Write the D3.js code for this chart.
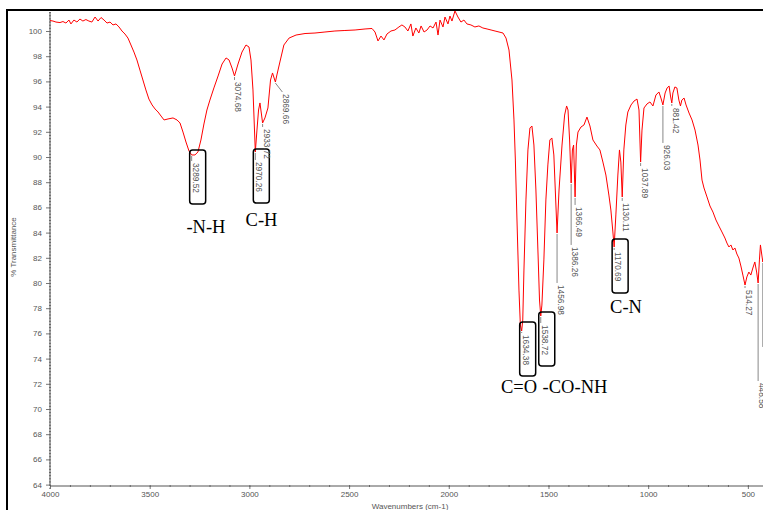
<!DOCTYPE html>
<html>
<head>
<meta charset="utf-8">
<script src="https://cdn.jsdelivr.net/npm/d3@7.9.0/dist/d3.min.js"></script>
<style>
  html, body { margin: 0; padding: 0; background: #fff; overflow: hidden; }
  svg { display: block; }
</style>
</head>
<body>
<svg id="chart" width="763" height="510"></svg>
<script>
// spectrum: wavenumber (cm-1) and % transmittance
const wavenumbers = [
  4000, 3985, 3970, 3950, 3935, 3920, 3905, 3895, 3880, 3865,
  3850, 3835, 3820, 3805, 3790, 3774, 3759, 3744, 3729, 3714,
  3699, 3684, 3669, 3654, 3639, 3624, 3609, 3594, 3579, 3564,
  3549, 3534, 3519, 3504, 3488, 3473, 3458, 3443, 3428, 3408,
  3383, 3363, 3348, 3333, 3318, 3303, 3289.52, 3273, 3258, 3243,
  3228, 3213, 3198, 3178, 3157, 3137, 3117, 3102, 3087, 3074.68,
  3057, 3037, 3017, 3002, 2992, 2982, 2970.26, 2962, 2954, 2947,
  2933.72, 2922, 2907, 2894, 2884, 2869.66, 2862, 2847, 2827, 2801,
  2766, 2721, 2671, 2621, 2571, 2521, 2470, 2420, 2385, 2370,
  2355, 2340, 2325, 2310, 2290, 2270, 2250, 2235, 2220, 2205,
  2190, 2180, 2165, 2150, 2139, 2124, 2109, 2094, 2079, 2064,
  2054, 2044, 2029, 2019, 2004, 1994, 1984, 1969, 1954, 1939,
  1924, 1909, 1889, 1869, 1849, 1829, 1808, 1788, 1768, 1748,
  1728, 1713, 1698, 1683, 1673, 1666, 1658, 1648, 1641, 1634.38,
  1629, 1623, 1613, 1603, 1593, 1583, 1573, 1563, 1553, 1545,
  1538.72, 1533, 1523, 1513, 1503, 1493, 1483, 1473, 1456.98, 1447,
  1432, 1419, 1409, 1402, 1394, 1386.26, 1380, 1374, 1366.49, 1360,
  1352, 1337, 1322, 1307, 1292, 1277, 1257, 1242, 1227, 1212,
  1197, 1187, 1177, 1170.69, 1162, 1152, 1144, 1137, 1130.11, 1122,
  1112, 1102, 1086, 1071, 1056, 1046, 1037.89, 1031, 1021, 1006,
  991, 976, 961, 946, 936, 926.03, 915, 905, 895, 888,
  881.42, 876, 866, 856, 846, 838, 831, 820, 810, 795,
  780, 765, 750, 740, 730, 720, 705, 690, 675, 660,
  645, 630, 615, 605, 595, 585, 575, 565, 555, 545,
  535, 525, 514.27, 505, 495, 485, 475, 465, 456, 448.58,
  442, 437, 430, 425, 415, 400
];
const transmittance = [
  100.83, 100.79, 100.71, 100.67, 100.75, 100.63, 100.87, 100.56, 100.87, 100.71,
  100.95, 100.79, 100.91, 100.79, 100.71, 101.11, 100.79, 101.07, 100.87, 100.63,
  100.71, 100.48, 100.56, 100.32, 100.0, 99.76, 99.44, 98.89, 98.33, 97.70,
  96.90, 96.11, 95.32, 94.60, 94.13, 93.81, 93.57, 93.25, 92.94, 93.02,
  93.10, 92.94, 92.70, 91.98, 91.19, 90.48, 90.16, 90.16, 90.40, 91.35,
  92.62, 93.73, 94.52, 95.48, 96.43, 97.38, 97.86, 97.70, 97.06, 96.43,
  97.38, 98.33, 98.89, 98.73, 97.70, 95.32, 90.40, 92.14, 93.73, 94.29,
  92.70, 93.10, 93.89, 96.11, 96.67, 95.95, 96.51, 97.54, 98.89, 99.44,
  99.68, 99.80, 99.84, 99.92, 100.0, 100.04, 100.08, 100.16, 100.20, 99.92,
  99.21, 99.60, 99.29, 99.76, 100.0, 100.08, 100.32, 100.48, 100.32, 100.0,
  100.56, 99.60, 100.24, 99.84, 100.40, 99.92, 100.08, 100.40, 100.24, 100.71,
  99.68, 100.87, 100.32, 101.11, 100.56, 101.19, 100.79, 101.59, 101.11, 100.71,
  100.87, 100.56, 100.48, 100.32, 100.40, 100.24, 100.16, 100.08, 100.0, 99.92,
  99.84, 99.44, 98.49, 96.11, 92.94, 89.76, 85.0, 79.44, 76.67, 76.19,
  77.06, 81.03, 86.59, 90.56, 92.30, 92.46, 90.95, 87.38, 82.62, 78.65,
  77.38, 78.25, 81.83, 86.59, 89.37, 91.35, 91.51, 90.16, 83.97, 87.38,
  90.95, 93.33, 94.05, 93.73, 91.35, 87.94, 90.56, 90.95, 86.83, 90.95,
  91.98, 92.38, 92.54, 93.17, 92.46, 91.35, 90.87, 90.56, 89.60, 88.57,
  86.98, 85.79, 84.05, 82.86, 85.40, 88.57, 90.56, 89.60, 86.83, 90.56,
  92.54, 93.57, 94.13, 94.44, 94.60, 93.73, 89.60, 92.14, 93.89, 94.21,
  94.37, 94.05, 94.92, 95.16, 94.68, 94.13, 95.08, 95.48, 95.63, 94.84,
  94.29, 95.08, 95.56, 95.48, 94.52, 94.05, 94.52, 94.68, 94.13, 93.49,
  92.94, 92.14, 90.95, 89.76, 88.17, 87.54, 86.83, 86.11, 85.63, 85.0,
  84.52, 84.05, 83.57, 83.17, 82.86, 83.02, 82.62, 82.78, 82.30, 81.98,
  81.35, 80.63, 79.84, 80.48, 80.87, 80.63, 81.19, 81.67, 80.87, 80.0,
  81.83, 83.02, 82.22, 81.67, 82.62, 83.02
];

// picked peaks (the last stick has its label off the edge)
const peakWavenumbers = [3289.52, 3074.68, 2970.26, 2933.72, 2869.66, 1634.38, 1538.72, 1456.98, 1386.26,
  1366.49, 1170.69, 1130.11, 1037.89, 926.03, 881.42, 514.27, 448.58, 425];
const peakLabels = ['3289.52', '3074.68', '2970.26', '2933.72', '2869.66', '1634.38', '1538.72', '1456.98', '1386.26',
  '1366.49', '1170.69', '1130.11', '1037.89', '926.03', '881.42', '514.27', '448.58', ''];
const boxedPeaks = [3289.52, 2970.26, 1634.38, 1538.72, 1170.69];

// group assignments written under the boxes
const groupLabels = ['-N-H', 'C-H', 'C=O', '-CO-NH', 'C-N'];
const groupWavenumbers = [3218, 2939, 1648, 1367, 1111];
const groupTransmittance = [83.97, 84.52, 71.27, 71.27, 77.62];

const xTickValues = [4000, 3500, 3000, 2500, 2000, 1500, 1000, 500];
const yTickValues = d3.range(64, 101, 2);

// label layout: how far each label sits below its peak (px), sideways shift
const labelDrop = [6, 4, 8, 4, 10, 2, 7, 50, 62, 8, 3, 4, 4, 38, 3, 3, 98, 85];
const labelShift = [0, 0, 0, 0, 7, 0, 0, 0, 0, 0, 0, 0, 0, 0, 0, 0, 0, 0];

const svg = d3.select('#chart');
const x = d3.scaleLinear().domain([4000, 400]).range([50, 767.8]);
const y = d3.scaleLinear().domain([64, 100]).range([484.6, 31]);
const axisY = 486;
const tickFont = '"Liberation Sans", Arial, sans-serif';

svg.append('rect')
  .attr('width', 763).attr('height', 510).attr('fill', '#fff');

// outer frame
svg.append('rect')
  .attr('x', 7).attr('y', 10)
  .attr('width', 820).attr('height', 620)
  .attr('fill', 'none')
  .attr('stroke', '#000')
  .attr('stroke-width', 2);

// y axis: minor ticks, then labelled ticks
const yMinor = svg.append('g')
  .attr('transform', 'translate(51,0)')
  .call(d3.axisLeft(y).tickValues(d3.range(63.75, 101.6, 0.25)).tickSize(2).tickFormat(''));
const yMajor = svg.append('g')
  .attr('transform', 'translate(50,0)')
  .call(d3.axisLeft(y).tickValues(yTickValues).tickSize(4).tickPadding(4).tickFormat(d3.format('d')));

// x axis
const xMinor = svg.append('g')
  .attr('transform', `translate(0,${axisY - 1})`)
  .call(d3.axisBottom(x).tickValues(d3.range(4000, 399, -100)).tickSize(2).tickFormat(''));
const xMajor = svg.append('g')
  .attr('transform', `translate(0,${axisY})`)
  .call(d3.axisBottom(x).tickValues(xTickValues).tickSize(3).tickPadding(2.5).tickFormat(d3.format('d')));

[yMinor, yMajor, xMinor, xMajor].forEach((g) => {
  g.select('.domain').remove();
  g.selectAll('line').attr('stroke', '#777');
  g.selectAll('text')
    .attr('fill', '#555')
    .style('font-family', tickFont)
    .style('font-size', '8px');
});

svg.append('line')
  .attr('x1', 50).attr('x2', 50)
  .attr('y1', 12).attr('y2', axisY)
  .attr('stroke', '#555');
svg.append('line')
  .attr('x1', 50).attr('x2', 770)
  .attr('y1', axisY).attr('y2', axisY)
  .attr('stroke', '#555');

// axis titles
svg.append('text')
  .attr('transform', 'translate(16,247) rotate(-90)')
  .attr('text-anchor', 'middle')
  .attr('fill', '#555')
  .style('font-family', tickFont)
  .style('font-size', '8px')
  .text('% Transmittance');
svg.append('text')
  .attr('x', 410).attr('y', 509)
  .attr('text-anchor', 'middle')
  .attr('fill', '#555')
  .style('font-family', tickFont)
  .style('font-size', '8px')
  .text('Wavenumbers (cm-1)');

// spectrum line
const line = d3.line()
  .x((d) => x(d[0]))
  .y((d) => y(d[1]));

svg.append('path')
  .datum(d3.zip(wavenumbers, transmittance))
  .attr('d', line)
  .attr('fill', 'none')
  .attr('stroke', '#ff0000')
  .attr('stroke-width', 1)
  .attr('stroke-linejoin', 'round');

// peak sticks and rotated labels
const peakGroup = svg.append('g');
peakWavenumbers.forEach((wn, i) => {
  const idx = d3.minIndex(wavenumbers, (w) => Math.abs(w - wn));
  const px = x(wn);
  const py = y(transmittance[idx]);
  const endX = px + labelShift[i];
  const endY = py + labelDrop[i];

  peakGroup.append('line')
    .attr('x1', px).attr('y1', py + 1)
    .attr('x2', endX).attr('y2', endY)
    .attr('stroke', '#888')
    .attr('stroke-width', 1);

  const textX = endX + 1;
  const textY = endY + 2;
  peakGroup.append('text')
    .attr('transform', `translate(${textX},${textY}) rotate(90)`)
    .attr('fill', '#555')
    .style('font-family', tickFont)
    .style('font-size', '8.3px')
    .text(peakLabels[i]);

  if (boxedPeaks.includes(wn)) {
    peakGroup.append('rect')
      .attr('x', textX - 3).attr('y', textY - 13)
      .attr('width', 16).attr('height', 54)
      .attr('rx', 3)
      .attr('fill', 'none')
      .attr('stroke', '#000')
      .attr('stroke-width', 1.5);
  }
});

// functional group names
groupLabels.forEach((label, i) => {
  svg.append('text')
    .attr('x', x(groupWavenumbers[i]))
    .attr('y', y(groupTransmittance[i]))
    .attr('text-anchor', 'middle')
    .attr('fill', '#000')
    .style('font-family', '"Liberation Serif", "Times New Roman", serif')
    .style('font-size', '18.5px')
    .text(label);
});
</script>
</body>
</html>
